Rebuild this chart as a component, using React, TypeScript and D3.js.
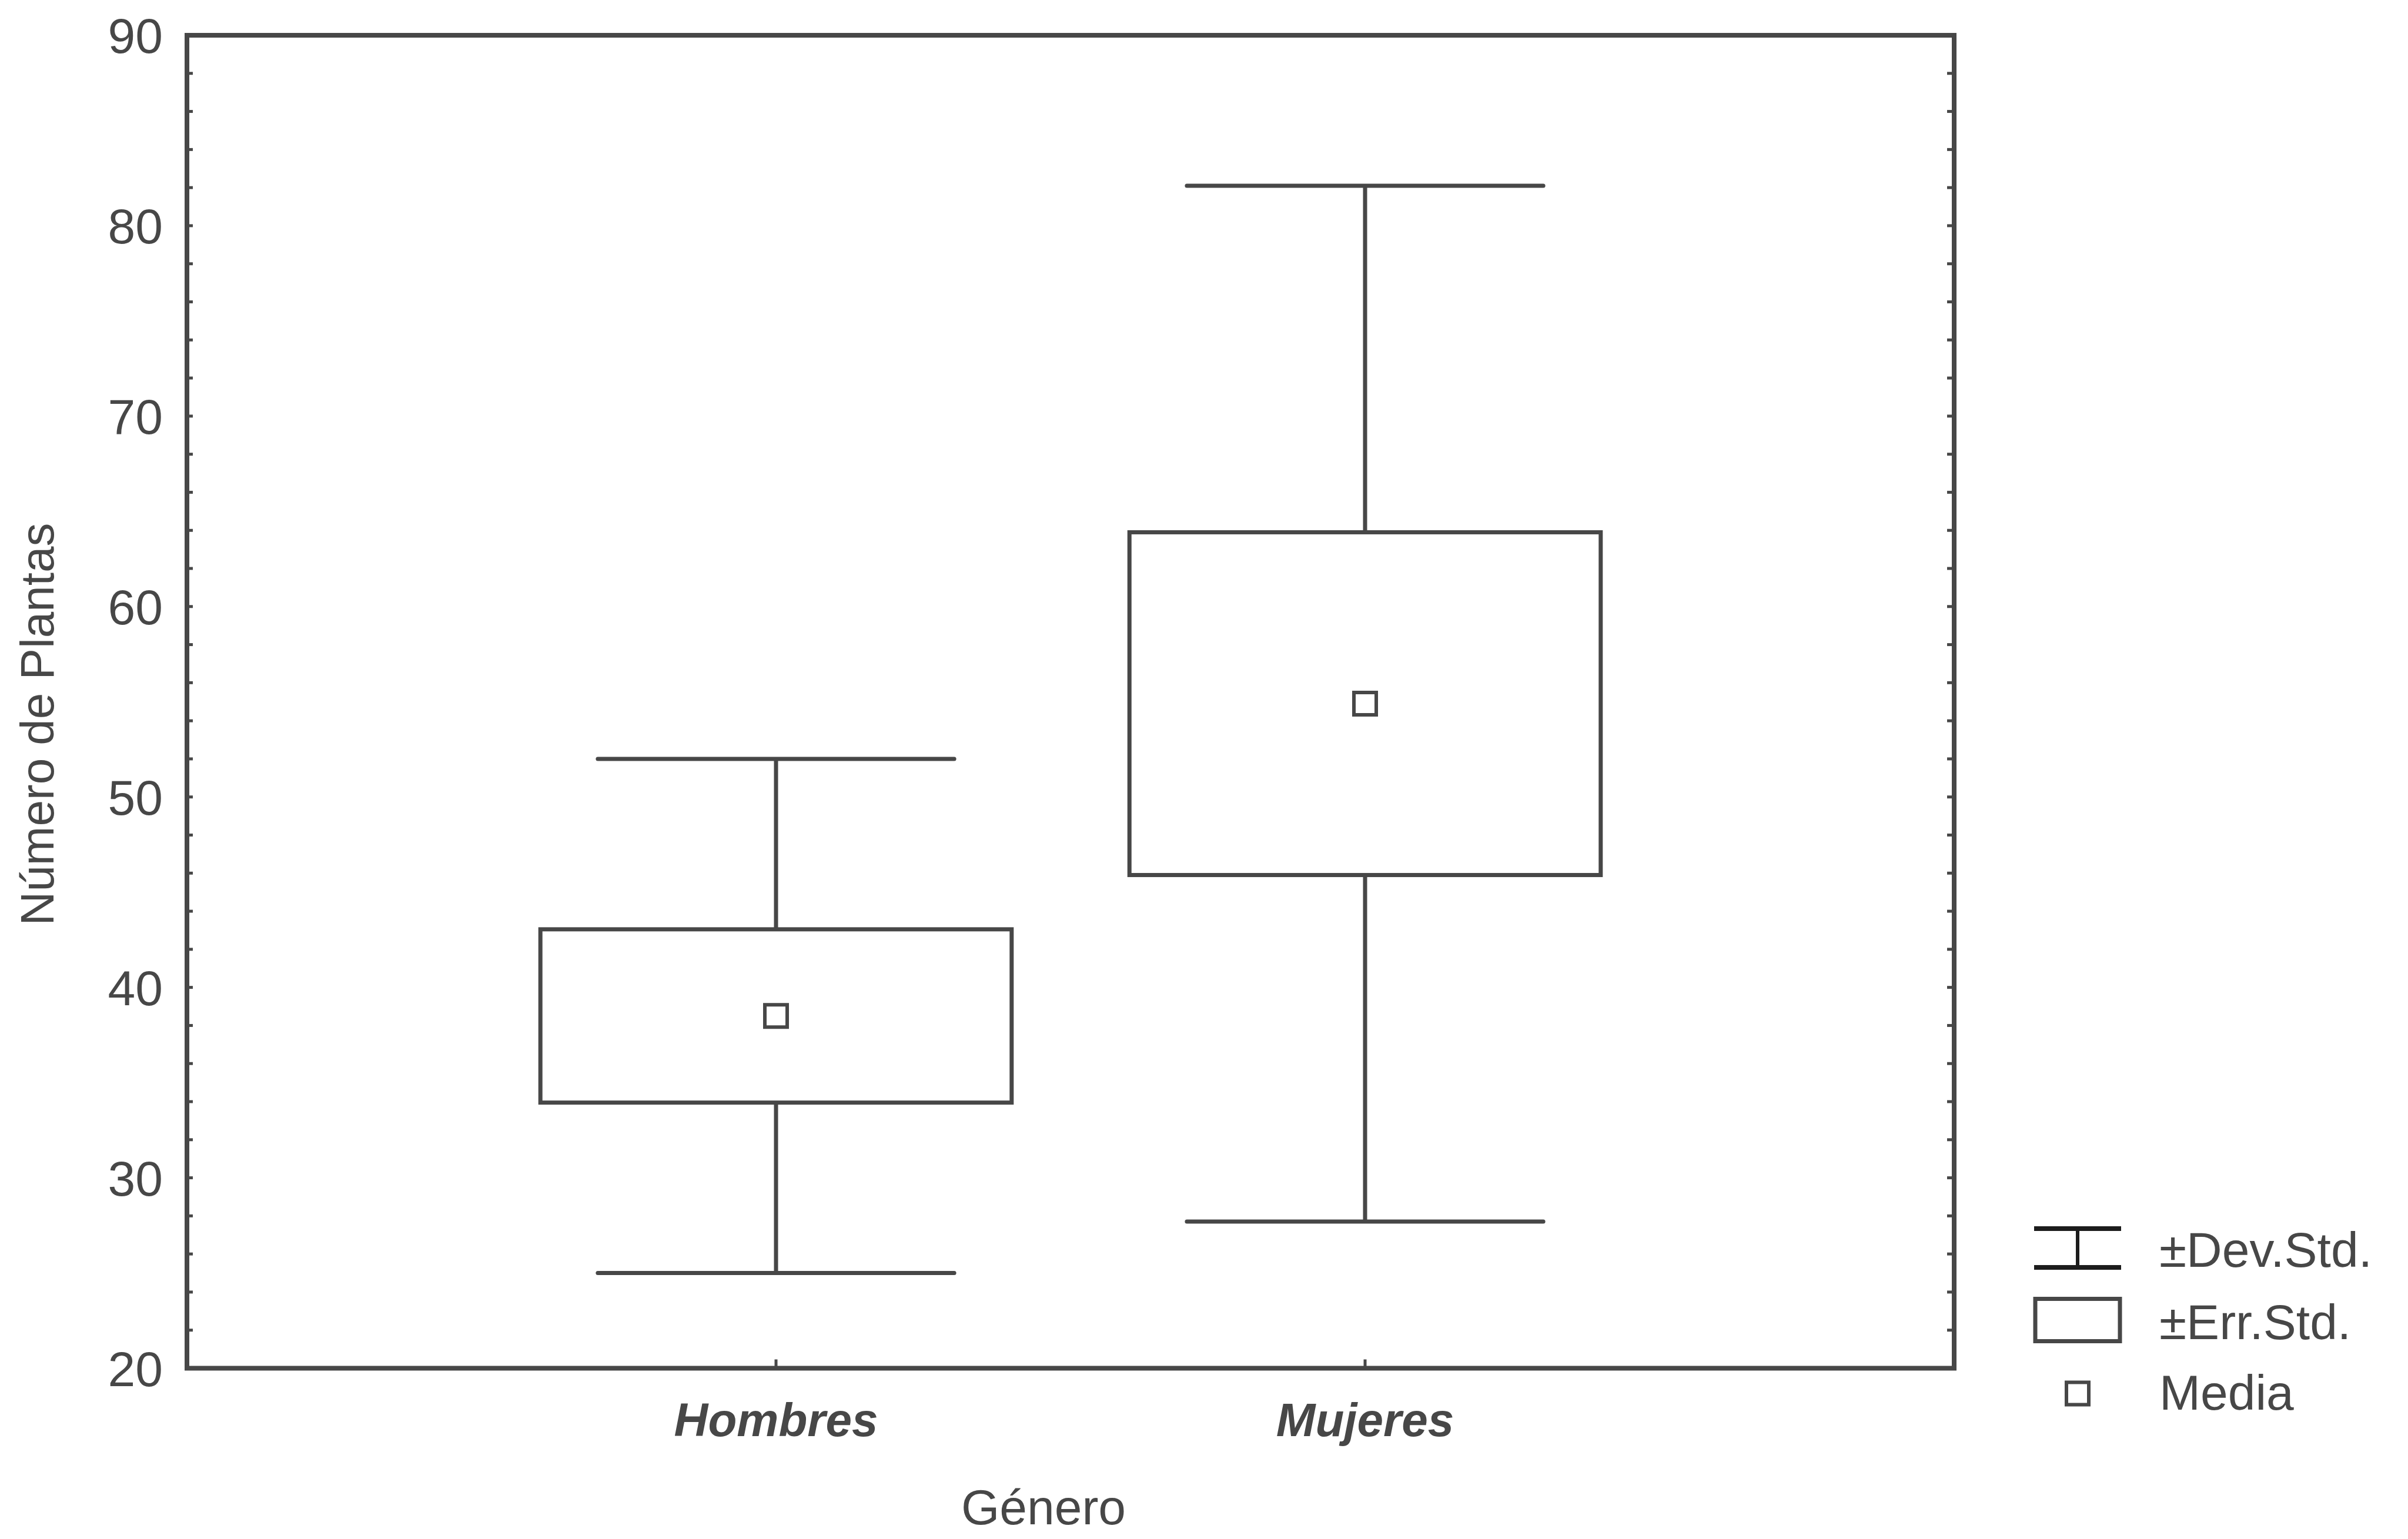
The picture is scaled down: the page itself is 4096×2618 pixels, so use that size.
import React from "react";
import * as d3 from "d3";

// ---- data ----
const categories: string[] = ["Hombres", "Mujeres"];
const means: number[] = [38.5, 54.9];
const stdErrs: number[] = [4.55, 9.0];
const stdDevs: number[] = [13.5, 27.2];
const yTicks: number[] = [20, 30, 40, 50, 60, 70, 80, 90];
const minorTicks: number[] = d3.range(20, 90.01, 2);
const legendLabels: string[] = ["±Dev.Std.", "±Err.Std.", "Media"];
const xTitle = "Género";
const yTitle = "Número de Plantas";

const W = 4096;
const H = 2618;
const FONT = "'Liberation Sans', Arial, Helvetica, sans-serif";
const INK = "#474747";

const frame = { left: 318, right: 3324, top: 60, bottom: 2327.5 };

export default function App() {
  const y = d3.scaleLinear().domain([20, 90]).range([frame.bottom, frame.top]);
  const x = d3
    .scalePoint<string>()
    .domain(categories)
    .range([frame.left, frame.right])
    .padding(1);
  const step = x.step();
  const boxW = step * 0.8;
  const capW = step * 0.605;
  const markerSize = 38;

  const lx0 = 3460;
  const lx1 = 3608;
  const lxc = (lx0 + lx1) / 2;

  return (
    <svg
      width={W}
      height={H}
      viewBox={`0 0 ${W} ${H}`}
      style={{ position: "absolute", left: 0, top: 0, background: "#fff" }}
    >
      <rect x={0} y={0} width={W} height={H} fill="#fff" />

      {/* boxes and whiskers */}
      {categories.map((c, i) => {
        const cx = x(c)!;
        const m = means[i];
        const se = stdErrs[i];
        const sd = stdDevs[i];
        return (
          <g key={c} stroke={INK} strokeWidth={7} fill="none">
            <line x1={cx} x2={cx} y1={y(m + sd)} y2={y(m + se)} />
            <line x1={cx} x2={cx} y1={y(m - se)} y2={y(m - sd)} />
            <line x1={cx - capW / 2} x2={cx + capW / 2} y1={y(m + sd)} y2={y(m + sd)} strokeLinecap="round" />
            <line x1={cx - capW / 2} x2={cx + capW / 2} y1={y(m - sd)} y2={y(m - sd)} strokeLinecap="round" />
            <rect
              x={cx - boxW / 2}
              y={y(m + se)}
              width={boxW}
              height={y(m - se) - y(m + se)}
              fill="none"
            />
            <rect
              x={cx - markerSize / 2}
              y={y(m) - markerSize / 2}
              width={markerSize}
              height={markerSize}
              fill="#fff"
              strokeWidth={6}
            />
          </g>
        );
      })}

      {/* frame */}
      <rect
        x={frame.left}
        y={frame.top}
        width={frame.right - frame.left}
        height={frame.bottom - frame.top}
        fill="none"
        stroke={INK}
        strokeWidth={8}
      />

      {/* minor ticks on left and right */}
      <g stroke={INK} strokeWidth={5}>
        {minorTicks.map((t) => (
          <g key={t}>
            <line x1={frame.left} x2={frame.left + 10} y1={y(t)} y2={y(t)} />
            <line x1={frame.right} x2={frame.right - 12} y1={y(t)} y2={y(t)} />
          </g>
        ))}
        {categories.map((c) => (
          <line key={c} x1={x(c)!} x2={x(c)!} y1={frame.bottom} y2={frame.bottom - 15} />
        ))}
      </g>

      {/* y tick labels */}
      <g fontFamily={FONT} fontSize={84} fill={INK} textAnchor="end">
        {yTicks.map((t) => (
          <text key={t} x={277} y={y(t)} dy={30}>
            {t}
          </text>
        ))}
      </g>

      {/* x tick labels */}
      <g fontFamily={FONT} fontSize={80} fill={INK} textAnchor="middle" fontWeight="bold" fontStyle="italic">
        {categories.map((c) => (
          <text key={c} x={x(c)!} y={2443}>
            {c}
          </text>
        ))}
      </g>

      {/* axis titles */}
      <text x={1775} y={2593} fontFamily={FONT} fontSize={84} fill={INK} textAnchor="middle">
        {xTitle}
      </text>
      <text
        transform={`translate(91,1232) rotate(-90)`}
        fontFamily={FONT}
        fontSize={80}
        fill={INK}
        textAnchor="middle"
      >
        {yTitle}
      </text>

      {/* legend */}
      <g>
        <line x1={lx0} x2={lx1} y1={2090} y2={2090} stroke="#1c1c1c" strokeWidth={8} />
        <line x1={lx0} x2={lx1} y1={2156} y2={2156} stroke="#1c1c1c" strokeWidth={8} />
        <line x1={lxc} x2={lxc} y1={2090} y2={2156} stroke="#1c1c1c" strokeWidth={6} />
        <rect x={lx0 + 2} y={2209.5} width={lx1 - lx0 - 4} height={72} fill="none" stroke={INK} strokeWidth={7} />
        <rect
          x={lxc - markerSize / 2}
          y={2370.5 - markerSize / 2}
          width={markerSize}
          height={markerSize}
          fill="none"
          stroke={INK}
          strokeWidth={6}
        />
        <g fontFamily={FONT} fontSize={84} fill={INK}>
          <text x={3673} y={2155}>{legendLabels[0]}</text>
          <text x={3673} y={2278}>{legendLabels[1]}</text>
          <text x={3673} y={2398}>{legendLabels[2]}</text>
        </g>
      </g>
    </svg>
  );
}
